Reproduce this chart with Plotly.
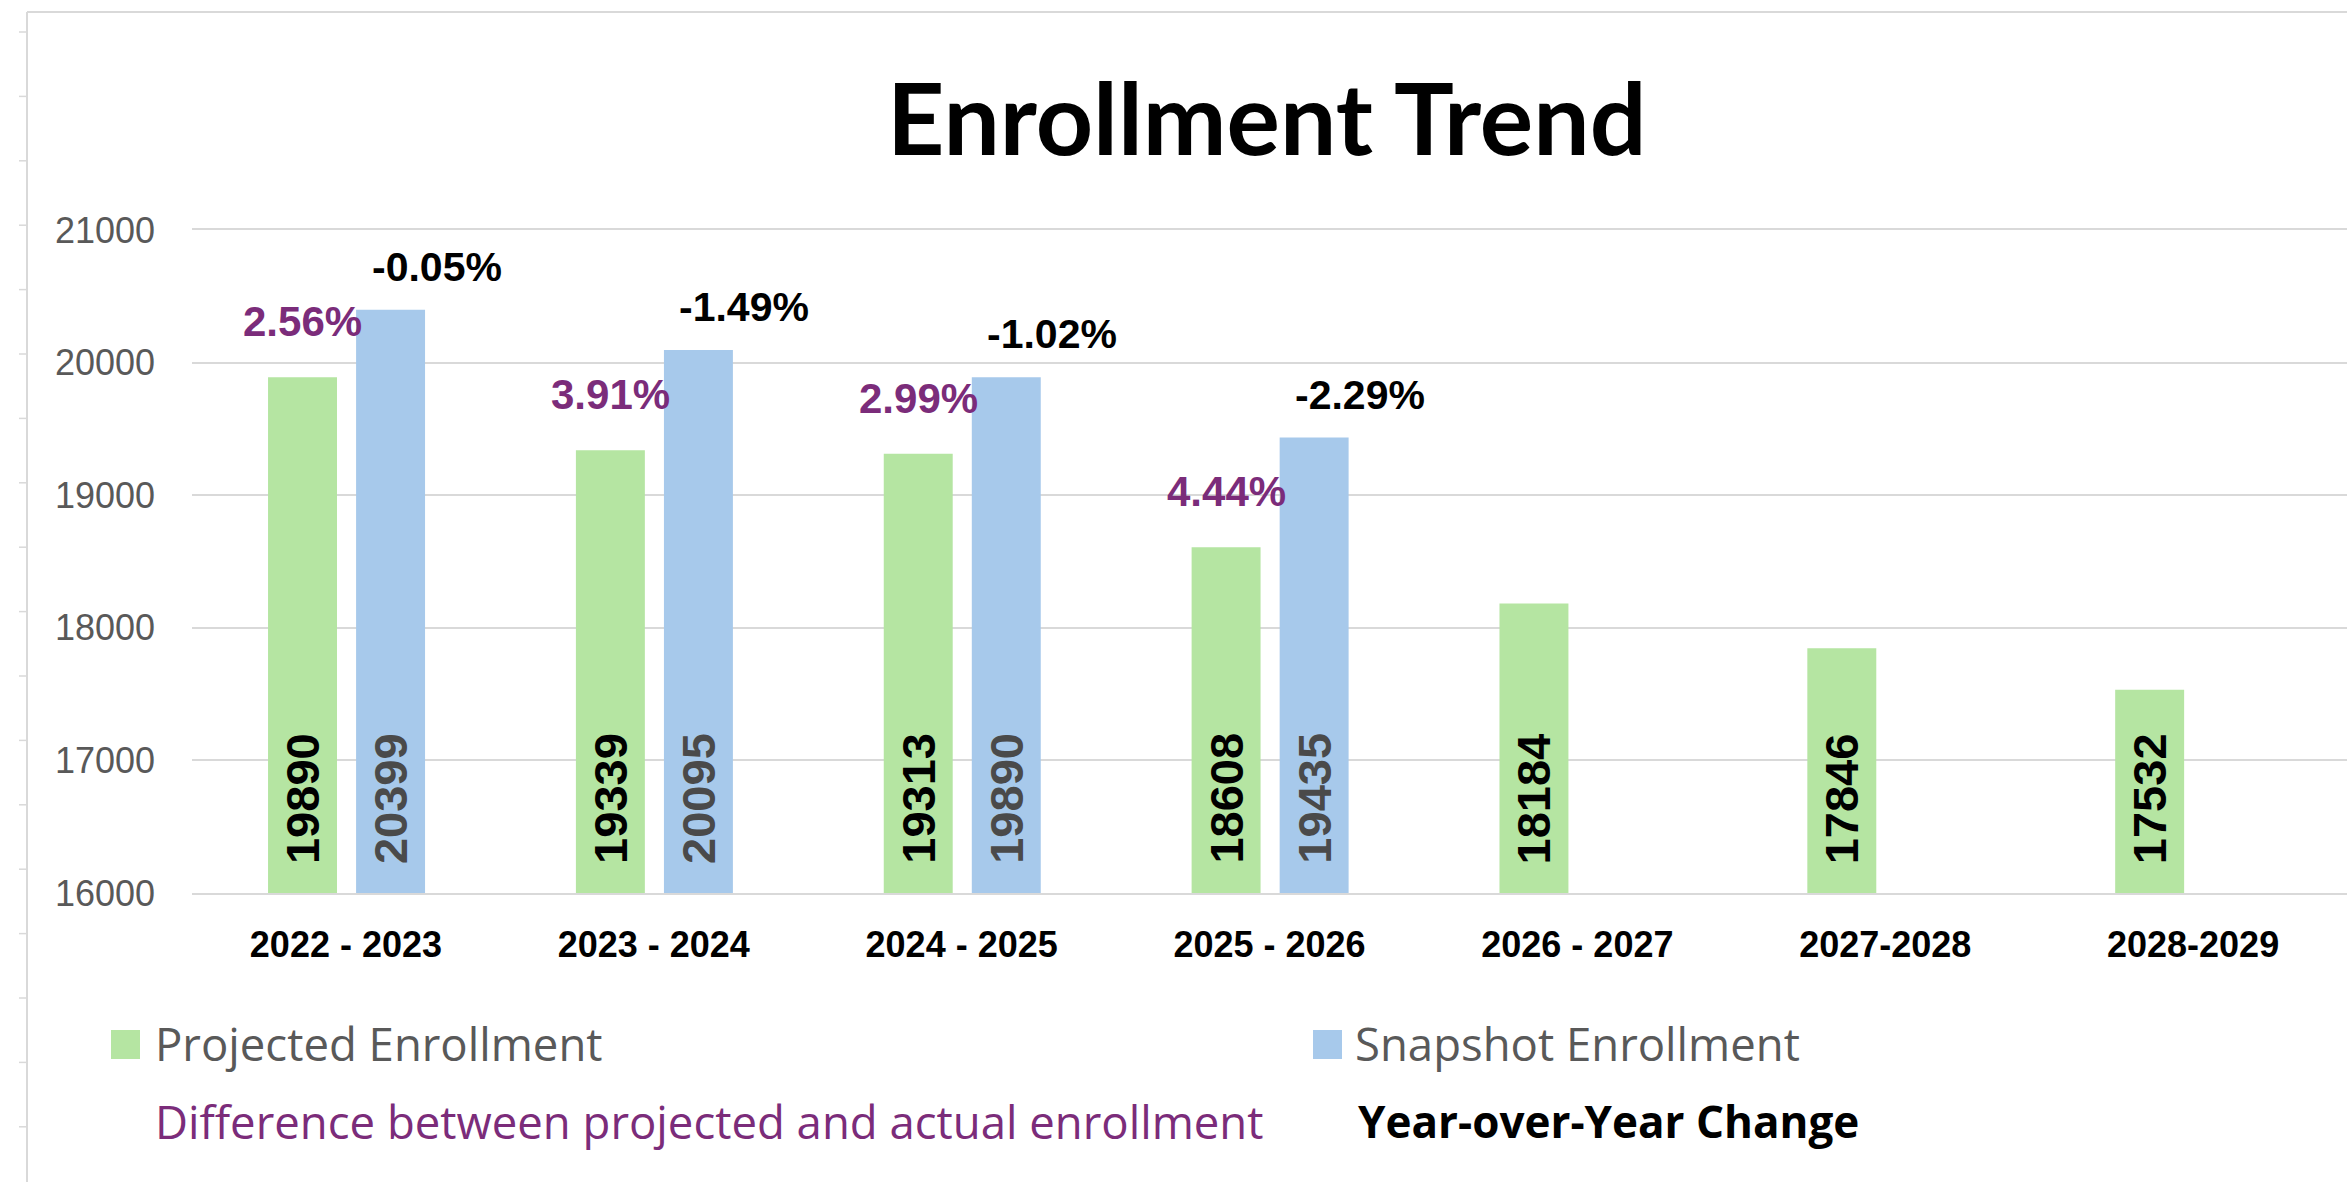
import plotly.graph_objects as go

# ---- data -------------------------------------------------------------
categories = ["2022 - 2023", "2023 - 2024", "2024 - 2025", "2025 - 2026",
              "2026 - 2027", "2027-2028", "2028-2029"]
projected = [19890, 19339, 19313, 18608, 18184, 17846, 17532]
snapshot = [20399, 20095, 19890, 19435, None, None, None]
diff_pct = [2.56, 3.91, 2.99, 4.44]      # snapshot vs projected
yoy_pct = [-0.05, -1.49, -1.02, -2.29]   # snapshot year-over-year
y_ticks = [16000, 17000, 18000, 19000, 20000, 21000]

# ---- geometry / style -------------------------------------------------
W, H = 2347, 1182
L, R, T, B = 192, 0, 230, 289
PW, PH = W - L - R, H - T - B
BAND = PW / len(categories)

GREEN = "#B5E5A2"
BLUE = "#A7C9EB"
PURPLE = "#7B2C7A"
GRAY = "#595959"
GRID = "#D9D9D9"

BAR_W = 0.224
GREEN_OFF = -0.253
BLUE_OFF = 0.033
green_shift = (GREEN_OFF + BAR_W / 2) * BAND
blue_shift = (BLUE_OFF + BAR_W / 2) * BAND


def px(x):
    return (x - L) / PW


def py(y):
    return (H - B - y) / PH


fig = go.Figure()
fig.add_trace(go.Bar(x=categories, y=projected, name="Projected Enrollment",
                     marker=dict(color=GREEN, line=dict(width=0)),
                     width=BAR_W, offset=GREEN_OFF, showlegend=False))
fig.add_trace(go.Bar(x=categories, y=snapshot, name="Snapshot Enrollment",
                     marker=dict(color=BLUE, line=dict(width=0)),
                     width=BAR_W, offset=BLUE_OFF, showlegend=False))

ann = []
base = y_ticks[0]
# values written up the bars from their base
for cat, v in zip(categories, projected):
    ann.append(dict(x=cat, y=base, xref="x", yref="y", text=f"<b>{v}</b>",
                    showarrow=False, textangle=-90, xanchor="center", yanchor="bottom",
                    xshift=green_shift, yshift=27,
                    font=dict(family="Liberation Sans, Arial", size=47, color="#000000")))
for cat, v in zip(categories, snapshot):
    if v is None:
        continue
    ann.append(dict(x=cat, y=base, xref="x", yref="y", text=f"<b>{v}</b>",
                    showarrow=False, textangle=-90, xanchor="center", yanchor="bottom",
                    xshift=blue_shift, yshift=27,
                    font=dict(family="Liberation Sans, Arial", size=47, color="#4A4A4A")))
# percentage labels above the bars
for cat, v, p in zip(categories, projected, diff_pct):
    ann.append(dict(x=cat, y=v, xref="x", yref="y", text=f"<b>{p:.2f}%</b>",
                    showarrow=False, xanchor="center", yanchor="bottom",
                    xshift=green_shift, yshift=30,
                    font=dict(family="Liberation Sans, Arial", size=42, color=PURPLE)))
for cat, v, p in zip(categories, snapshot, yoy_pct):
    ann.append(dict(x=cat, y=v, xref="x", yref="y", text=f"<b>{p:.2f}%</b>",
                    showarrow=False, xanchor="center", yanchor="bottom",
                    xshift=blue_shift + 46, yshift=18,
                    font=dict(family="Liberation Sans, Arial", size=41, color="#000000")))

# title
ann.append(dict(x=px(1266), y=py(116), xref="paper", yref="paper",
                text="<b>Enrollment Trend</b>", showarrow=False,
                xanchor="center", yanchor="middle",
                font=dict(family="Lato, Liberation Sans", size=100, color="#000000")))

# legend
LEG_FONT = "Open Sans, Lato, sans-serif"
legend_rows = [
    (153, 1043, "Projected Enrollment", GRAY, 45.5),
    (1353, 1043, "Snapshot Enrollment", GRAY, 45.5),
    (153, 1121, "Difference between projected and actual enrollment", PURPLE, 45.5),
    (1356, 1121, "<b>Year-over-Year Change</b>", "#000000", 44),
]
for lx, ly, txt, col, fs in legend_rows:
    ann.append(dict(x=px(lx), y=py(ly), xref="paper", yref="paper", text=txt,
                    showarrow=False, xanchor="left", yanchor="middle",
                    font=dict(family=LEG_FONT, size=fs, color=col)))

shapes = []
for x0, col in [(111, GREEN), (1313, BLUE)]:
    shapes.append(dict(type="rect", xref="paper", yref="paper",
                       x0=px(x0), x1=px(x0 + 29), y0=py(1059), y1=py(1030),
                       fillcolor=col, line=dict(width=0)))

# outer frame
shapes.append(dict(type="line", xref="paper", yref="paper",
                   x0=px(27), x1=px(W), y0=py(12), y1=py(12),
                   line=dict(color=GRID, width=2)))
shapes.append(dict(type="line", xref="paper", yref="paper",
                   x0=px(27), x1=px(27), y0=py(12), y1=py(H),
                   line=dict(color=GRID, width=2)))
ty = 32.0
while ty < H:
    shapes.append(dict(type="line", xref="paper", yref="paper",
                       x0=px(19), x1=px(27), y0=py(ty), y1=py(ty),
                       line=dict(color=GRID, width=1.5)))
    ty += 64.4

fig.update_layout(
    width=W, height=H,
    margin=dict(l=L, r=R, t=T, b=B, pad=0),
    paper_bgcolor="white", plot_bgcolor="white",
    barmode="overlay",
    annotations=ann, shapes=shapes,
    showlegend=False,
)
fig.update_xaxes(
    type="category", range=[-0.5, len(categories) - 0.5],
    showgrid=False, showline=True, mirror=True, linecolor=GRID, linewidth=2,
    ticks="", ticklabelstandoff=19,
    tickfont=dict(family="Liberation Sans, Arial", size=36, color="#000000", weight="bold"),
)
fig.update_yaxes(
    range=[y_ticks[0], y_ticks[-1]], tickvals=y_ticks, tickformat="d",
    showgrid=True, gridcolor=GRID, gridwidth=2, zeroline=False,
    showline=False, ticks="", ticklabelstandoff=36,
    tickfont=dict(family="Liberation Sans, Arial", size=36, color=GRAY),
)

fig.write_html("out.html")
